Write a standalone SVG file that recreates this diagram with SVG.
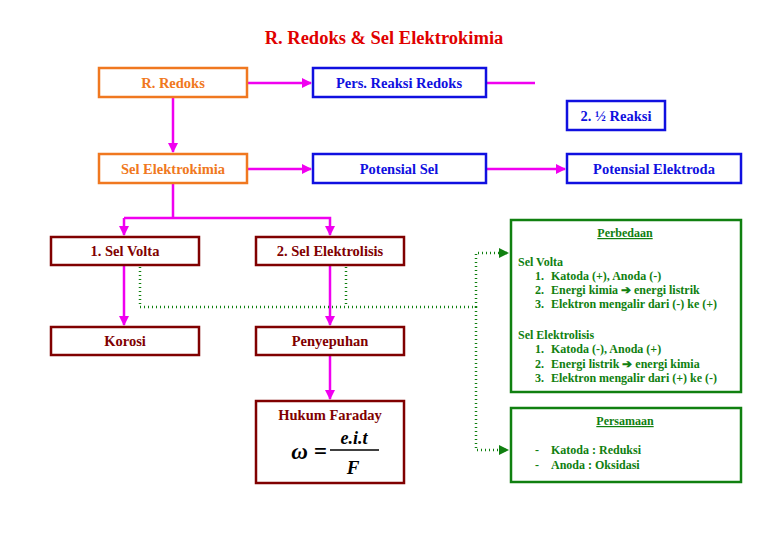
<svg xmlns="http://www.w3.org/2000/svg" width="768" height="543" viewBox="0 0 768 543">
<style>
text{font-family:"Liberation Serif","Times New Roman",serif;font-weight:bold}
.n text{font-size:14.5px;text-anchor:middle}
.o rect{fill:#fff;stroke:#f07820;stroke-width:2.5}.o text{fill:#f07820}
.b rect{fill:#fff;stroke:#1010e0;stroke-width:2.5}.b text{fill:#1010e0}
.r rect{fill:#fff;stroke:#800000;stroke-width:2.5}.r text{fill:#800000}
.r text.f{fill:#000;font-style:italic;text-anchor:middle}
.g rect{fill:#fff;stroke:#108010;stroke-width:2.5}.g text{fill:#108010;font-size:12px}
.m{stroke:#f000f0;stroke-width:2.5;fill:none}
.d{stroke:#108010;stroke-width:2.5;stroke-dasharray:1 3;fill:none}
</style>
<defs>
<marker id="am" viewBox="0 0 10 10" refX="9" refY="5" markerWidth="4" markerHeight="4" orient="auto"><path d="M0,0L10,5L0,10z" fill="#f000f0"/></marker>
<marker id="ag" viewBox="0 0 10 10" refX="9" refY="5" markerWidth="4" markerHeight="4" orient="auto"><path d="M0,0L10,5L0,10z" fill="#108010"/></marker>
</defs>
<rect width="768" height="543" fill="#fff"/>
<text x="384" y="44" font-size="18.5" fill="#e00000" text-anchor="middle">R. Redoks &amp; Sel Elektrokimia</text>
<g id="connectors">
<path class="m" d="M247,83H311" marker-end="url(#am)"/>
<path class="m" d="M486,83H535"/>
<path class="m" d="M173,97V152" marker-end="url(#am)"/>
<path class="m" d="M247,169H311" marker-end="url(#am)"/>
<path class="m" d="M486,169H565" marker-end="url(#am)"/>
<path class="m" d="M173,183V218H124M173,218H330V235" marker-end="url(#am)"/>
<path class="m" d="M124,218V235" marker-end="url(#am)"/>
<path class="m" d="M124,265V325" marker-end="url(#am)"/>
<path class="m" d="M330,265V325" marker-end="url(#am)"/>
<path class="m" d="M330,355V399" marker-end="url(#am)"/>
<path class="d" d="M140,267V307H476M346,267V307M476,307V253H508" marker-end="url(#ag)"/>
<path class="d" d="M476,307V450H508" marker-end="url(#ag)"/>
</g>
<g class="n o" id="redoks"><rect x="99" y="68" width="148" height="29"/><text x="173" y="88">R. Redoks</text></g>
<g class="n b" id="pers"><rect x="313" y="68" width="173" height="29"/><text x="399" y="88">Pers. Reaksi Redoks</text></g>
<g class="n b" id="half"><rect x="567" y="101" width="98" height="29"/><text x="616" y="121">2. ½ Reaksi</text></g>
<g class="n o" id="selek"><rect x="99" y="154" width="148" height="29"/><text x="173" y="174">Sel Elektrokimia</text></g>
<g class="n b" id="potsel"><rect x="313" y="154" width="173" height="29"/><text x="399" y="174">Potensial Sel</text></g>
<g class="n b" id="potel"><rect x="567" y="154" width="174" height="29"/><text x="654" y="174">Potensial Elektroda</text></g>
<g class="n r" id="volta"><rect x="51" y="237" width="148" height="28"/><text x="125" y="256">1. Sel Volta</text></g>
<g class="n r" id="elis"><rect x="256" y="237" width="148" height="28"/><text x="330" y="256">2. Sel Elektrolisis</text></g>
<g class="n r" id="korosi"><rect x="51" y="327" width="148" height="28"/><text x="125" y="346">Korosi</text></g>
<g class="n r" id="penye"><rect x="256" y="327" width="148" height="28"/><text x="330" y="346">Penyepuhan</text></g>
<g class="n r" id="faraday"><rect x="256" y="401" width="148" height="82"/><text x="330" y="420">Hukum Faraday</text>
<text class="f" x="309" y="459" style="font-size:23px">ω =</text>
<text class="f" x="354" y="444" style="font-size:18px">e.i.t</text>
<line x1="330" y1="450" x2="379" y2="450" stroke="#000" stroke-width="1.3"/>
<text class="f" x="353" y="474" style="font-size:19px">F</text></g>
<g class="g" id="perbedaan"><rect x="511" y="220" width="230" height="172"/>
<text x="625" y="237" text-anchor="middle" text-decoration="underline">Perbedaan</text>
<text x="518" y="266">Sel Volta</text>
<text x="535" y="280">1.</text><text x="551" y="280">Katoda (+), Anoda (-)</text>
<text x="535" y="294">2.</text><text x="551" y="294">Energi kimia ➔ energi listrik</text>
<text x="535" y="308">3.</text><text x="551" y="308">Elektron mengalir dari (-) ke (+)</text>
<text x="518" y="339">Sel Elektrolisis</text>
<text x="535" y="353">1.</text><text x="551" y="353">Katoda (-), Anoda (+)</text>
<text x="535" y="368">2.</text><text x="551" y="368">Energi listrik ➔ energi kimia</text>
<text x="535" y="382">3.</text><text x="551" y="382">Elektron mengalir dari (+) ke (-)</text></g>
<g class="g" id="persamaan"><rect x="511" y="408" width="230" height="74"/>
<text x="625" y="425" text-anchor="middle" text-decoration="underline">Persamaan</text>
<text x="535" y="454">-</text><text x="551" y="454">Katoda : Reduksi</text>
<text x="535" y="469">-</text><text x="551" y="469">Anoda : Oksidasi</text></g>
</svg>
